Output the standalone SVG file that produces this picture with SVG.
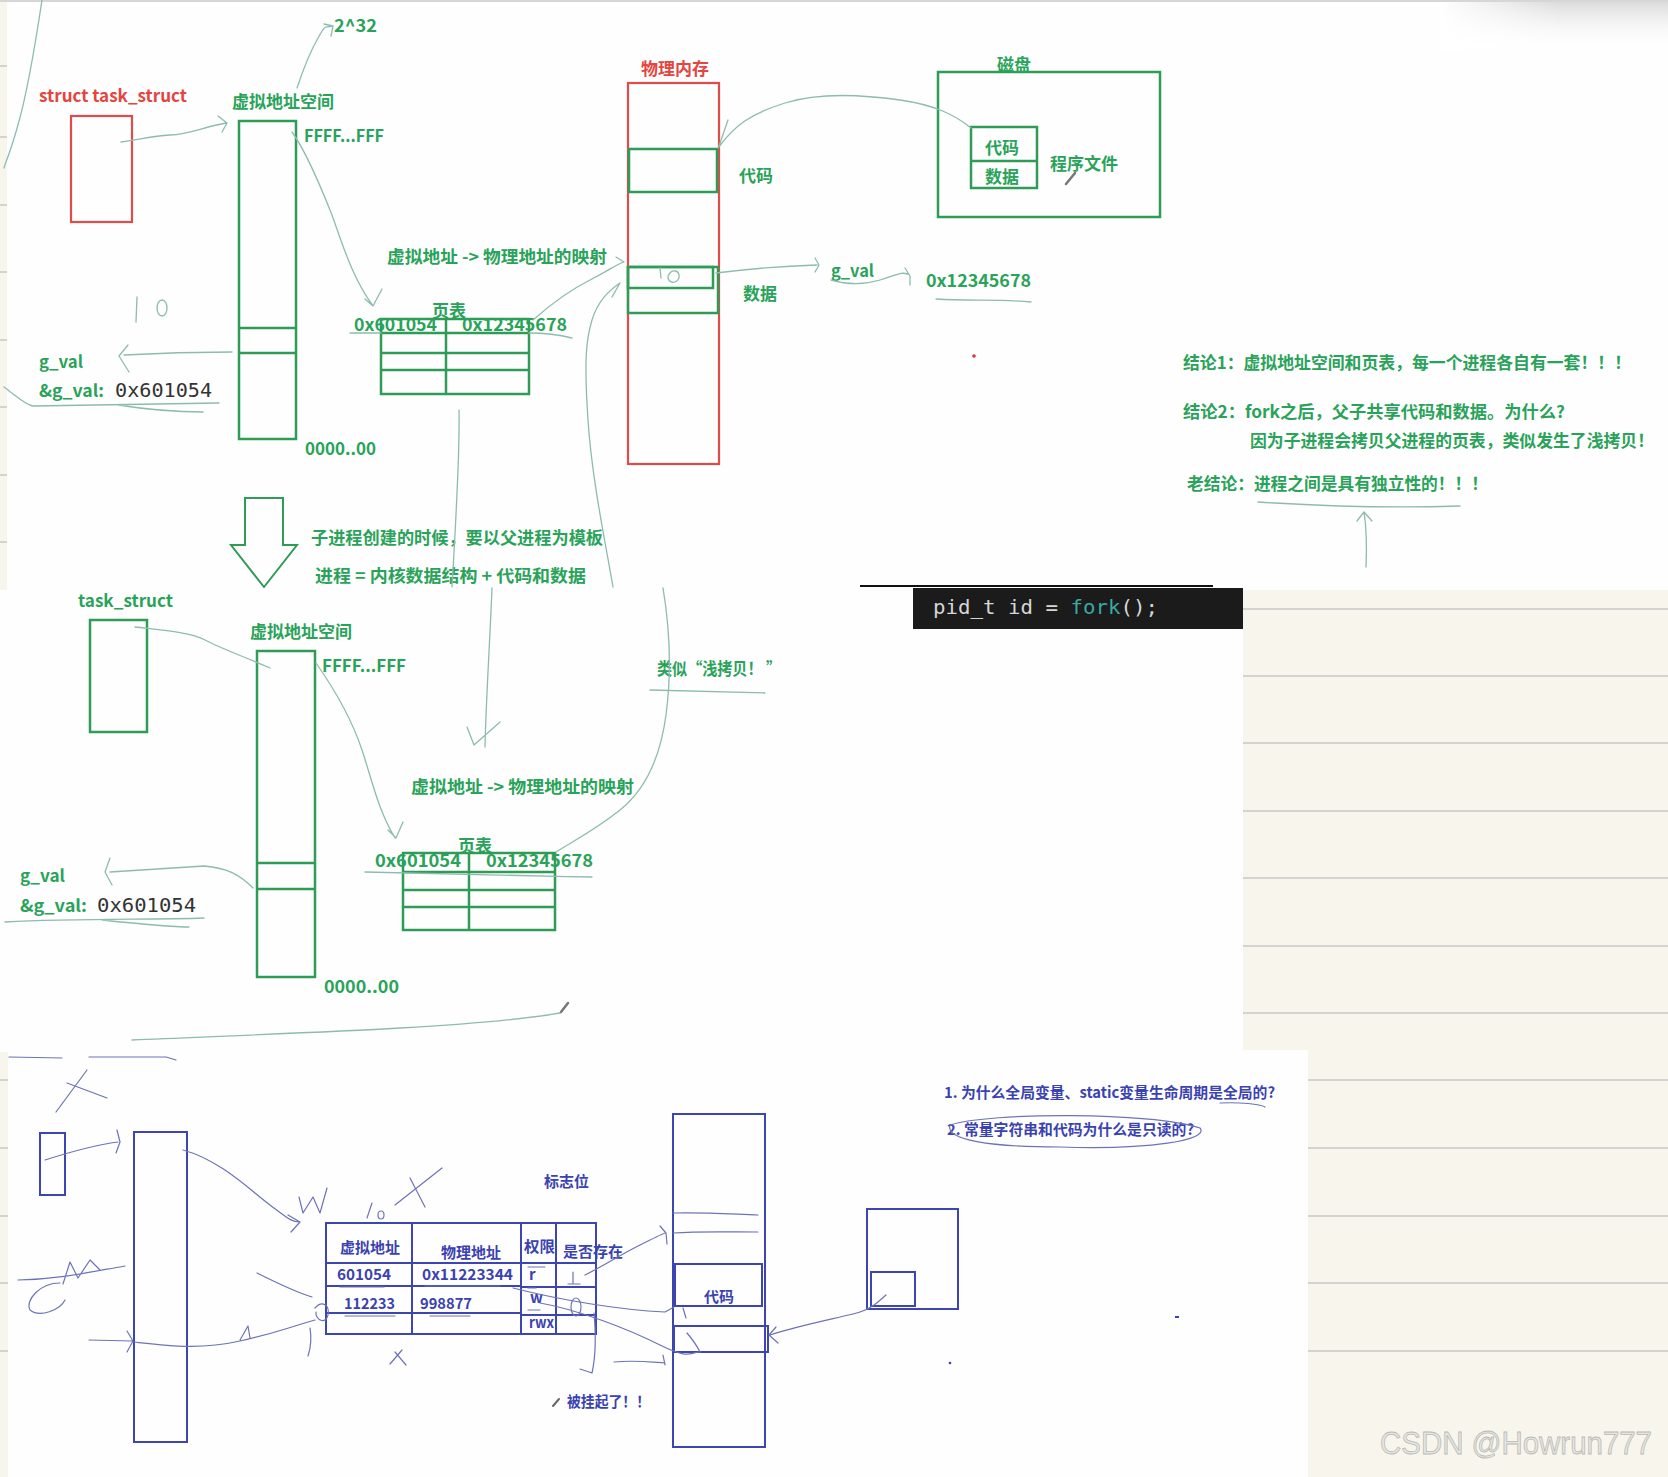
<svg xmlns="http://www.w3.org/2000/svg" width="1668" height="1477" viewBox="0 0 1668 1477">
<defs>
<linearGradient id="tg" x1="0" y1="0" x2="0" y2="1"><stop offset="0" stop-color="#d8d8d8"/><stop offset="1" stop-color="#ffffff" stop-opacity="0"/></linearGradient>
<linearGradient id="tgx" x1="0" y1="0" x2="1" y2="0"><stop offset="0" stop-color="#fff" stop-opacity="1"/><stop offset="1" stop-color="#fff" stop-opacity="0"/></linearGradient>
</defs>
<style>
text{font-family:"Noto Sans CJK SC","Noto Sans",sans-serif;font-weight:700}
.g{fill:#2aa35a;font-size:17px}
.r{fill:#e5443f;font-size:17px}
.b{fill:#3a42b2;font-size:15px}
.mono{font-family:"DejaVu Sans Mono","Liberation Mono",monospace;font-weight:400;font-size:20px;fill:#333}
.code{font-family:"DejaVu Sans Mono","Liberation Mono",monospace;font-weight:400;font-size:20px;fill:#d6d6d6}
.wm{font-family:"Liberation Sans",Arial,sans-serif;font-weight:400;font-size:31px;fill:#e6e6e2;stroke:#b9b9b5;stroke-width:0.8}
.gb{fill:none;stroke:#2f9c56;stroke-width:2.5}
.rb{fill:none;stroke:#e04b4b;stroke-width:2.2}
.bb{fill:none;stroke:#3d45b0;stroke-width:2}
.pen{fill:none;stroke:#8dbcae;stroke-width:1.3;stroke-linecap:round;stroke-linejoin:round}
.bpen{fill:none;stroke:#6c73b8;stroke-width:1.2;stroke-linecap:round;stroke-linejoin:round}
.rule{stroke:#d3d3cf;stroke-width:2}
</style>
<!-- backgrounds -->
<rect x="0" y="0" width="1668" height="1477" fill="#fefefe"/>
<rect x="1243" y="590" width="425" height="887" fill="#f8f6ec"/>
<rect x="0" y="1050" width="1308" height="427" fill="#fefefe"/>
<rect x="0" y="0" width="7" height="590" fill="#f8f6ec"/>
<rect x="0" y="1052" width="8" height="425" fill="#f8f6ec"/>
<rect x="1440" y="0" width="228" height="50" fill="url(#tg)"/>
<rect x="1440" y="0" width="120" height="50" fill="url(#tgx)"/>
<line x1="0" y1="1" x2="1668" y2="1" stroke="#d6d6d6" stroke-width="2"/>
<g id="rules">
<line class="rule" x1="1243" y1="609" x2="1668" y2="609"/>
<line class="rule" x1="1243" y1="676" x2="1668" y2="676"/>
<line class="rule" x1="1243" y1="743" x2="1668" y2="743"/>
<line class="rule" x1="1243" y1="811" x2="1668" y2="811"/>
<line class="rule" x1="1243" y1="878" x2="1668" y2="878"/>
<line class="rule" x1="1243" y1="946" x2="1668" y2="946"/>
<line class="rule" x1="1243" y1="1013" x2="1668" y2="1013"/>
<line class="rule" x1="1308" y1="1080" x2="1668" y2="1080"/>
<line class="rule" x1="1308" y1="1148" x2="1668" y2="1148"/>
<line class="rule" x1="1308" y1="1216" x2="1668" y2="1216"/>
<line class="rule" x1="1308" y1="1283" x2="1668" y2="1283"/>
<line class="rule" x1="1308" y1="1351" x2="1668" y2="1351"/>
<line class="rule" x1="0" y1="66" x2="7" y2="66"/>
<line class="rule" x1="0" y1="137" x2="7" y2="137"/>
<line class="rule" x1="0" y1="205" x2="7" y2="205"/>
<line class="rule" x1="0" y1="272" x2="7" y2="272"/>
<line class="rule" x1="0" y1="340" x2="7" y2="340"/>
<line class="rule" x1="0" y1="407" x2="7" y2="407"/>
<line class="rule" x1="0" y1="475" x2="7" y2="475"/>
<line class="rule" x1="0" y1="542" x2="7" y2="542"/>
<line class="rule" x1="0" y1="1080" x2="8" y2="1080"/>
<line class="rule" x1="0" y1="1148" x2="8" y2="1148"/>
<line class="rule" x1="0" y1="1216" x2="8" y2="1216"/>
<line class="rule" x1="0" y1="1283" x2="8" y2="1283"/>
<line class="rule" x1="0" y1="1351" x2="8" y2="1351"/>
</g>

<!-- ===== top panel nodes ===== -->
<g id="task-struct-1">
<text class="r" x="39" y="102" textLength="148" lengthAdjust="spacingAndGlyphs">struct task_struct</text>
<rect class="rb" x="71" y="116" width="61" height="106"/>
</g>
<g id="vas-1">
<text class="g" x="232" y="108">虚拟地址空间</text>
<rect class="gb" x="239" y="121" width="57" height="318"/>
<line class="gb" x1="239" y1="328" x2="296" y2="328"/>
<line class="gb" x1="239" y1="353" x2="296" y2="353"/>
<text class="g" x="304" y="142" textLength="80" lengthAdjust="spacingAndGlyphs">FFFF...FFF</text>
<text class="g" x="334" y="32" textLength="43" lengthAdjust="spacingAndGlyphs">2^32</text>
<text class="g" x="305" y="455" textLength="71" lengthAdjust="spacingAndGlyphs">0000..00</text>
</g>
<g id="gval-1">
<text class="g" x="39" y="368" textLength="44" lengthAdjust="spacingAndGlyphs">g_val</text>
<text class="g" x="39" y="397" textLength="65" lengthAdjust="spacingAndGlyphs">&amp;g_val:</text>
<text class="mono" x="115" y="397" textLength="97" lengthAdjust="spacingAndGlyphs">0x601054</text>
</g>
<g id="pagetable-1">
<text class="g" x="387" y="263" textLength="220" lengthAdjust="spacingAndGlyphs">虚拟地址 -&gt; 物理地址的映射</text>
<text class="g" x="432" y="317">页表</text>
<rect class="gb" x="381" y="319" width="148" height="75"/>
<line class="gb" x1="381" y1="333" x2="529" y2="333"/>
<line class="gb" x1="381" y1="353" x2="529" y2="353"/>
<line class="gb" x1="381" y1="370" x2="529" y2="370"/>
<line class="gb" x1="446" y1="319" x2="446" y2="394"/>
<text class="g" x="354" y="331" textLength="83" lengthAdjust="spacingAndGlyphs">0x601054</text>
<text class="g" x="462" y="331" textLength="105" lengthAdjust="spacingAndGlyphs">0x12345678</text>
</g>
<g id="phys-mem-1">
<text class="r" x="641" y="75">物理内存</text>
<rect class="rb" x="628" y="83" width="91" height="381"/>
<rect class="gb" x="629" y="149" width="88" height="43"/>
<rect class="gb" x="628" y="267" width="90" height="46"/>
<rect class="gb" x="628" y="267" width="85" height="21"/>
<text class="g" x="739" y="182">代码</text>
<text class="g" x="743" y="300">数据</text>
</g>
<g id="gval-value">
<text class="g" x="831" y="277" textLength="43" lengthAdjust="spacingAndGlyphs">g_val</text>
<text class="g" x="926" y="287" textLength="105" lengthAdjust="spacingAndGlyphs">0x12345678</text>
</g>
<g id="disk">
<rect class="gb" x="938" y="72" width="222" height="145"/>
<text class="g" x="997" y="71">磁盘</text>
<rect class="gb" x="971" y="127" width="66" height="61"/>
<line class="gb" x1="971" y1="161" x2="1037" y2="161"/>
<text class="g" x="985" y="154">代码</text>
<text class="g" x="985" y="183">数据</text>
<text class="g" x="1050" y="170">程序文件</text>
</g>
<g id="conclusions">
<text class="g" x="1183" y="369" textLength="448" lengthAdjust="spacingAndGlyphs">结论1：虚拟地址空间和页表，每一个进程各自有一套！！！</text>
<text class="g" x="1183" y="418" textLength="382" lengthAdjust="spacingAndGlyphs">结论2：fork之后，父子共享代码和数据。为什么?</text>
<text class="g" x="1250" y="447" textLength="404" lengthAdjust="spacingAndGlyphs">因为子进程会拷贝父进程的页表，类似发生了浅拷贝！</text>
<text class="g" x="1187" y="490" textLength="301" lengthAdjust="spacingAndGlyphs">老结论：进程之间是具有独立性的！！！</text>
</g>
<g id="fork-arrow">
<polygon points="245,498 283,498 283,545 297,545 264,587 231,545 245,545" fill="none" stroke="#2f9c56" stroke-width="2"/>
<text class="g" x="311" y="544" textLength="292" lengthAdjust="spacingAndGlyphs">子进程创建的时候，要以父进程为模板</text>
<text class="g" x="315" y="582" textLength="271" lengthAdjust="spacingAndGlyphs">进程 = 内核数据结构 + 代码和数据</text>
</g>

<!-- ===== middle panel nodes ===== -->
<g id="task-struct-2">
<text class="g" x="78" y="607" textLength="95" lengthAdjust="spacingAndGlyphs">task_struct</text>
<rect class="gb" x="90" y="620" width="57" height="112"/>
</g>
<g id="vas-2">
<text class="g" x="250" y="638">虚拟地址空间</text>
<rect class="gb" x="257" y="651" width="58" height="326"/>
<line class="gb" x1="257" y1="863" x2="315" y2="863"/>
<line class="gb" x1="257" y1="889" x2="315" y2="889"/>
<text class="g" x="322" y="672" textLength="84" lengthAdjust="spacingAndGlyphs">FFFF...FFF</text>
<text class="g" x="324" y="993" textLength="75" lengthAdjust="spacingAndGlyphs">0000..00</text>
</g>
<g id="gval-2">
<text class="g" x="20" y="882" textLength="45" lengthAdjust="spacingAndGlyphs">g_val</text>
<text class="g" x="20" y="912" textLength="67" lengthAdjust="spacingAndGlyphs">&amp;g_val:</text>
<text class="mono" x="97" y="912" textLength="99" lengthAdjust="spacingAndGlyphs">0x601054</text>
</g>
<g id="pagetable-2">
<text class="g" x="657" y="675" textLength="124" lengthAdjust="spacingAndGlyphs">类似“浅拷贝！ ”</text>
<text class="g" x="411" y="793" textLength="223" lengthAdjust="spacingAndGlyphs">虚拟地址 -&gt; 物理地址的映射</text>
<text class="g" x="458" y="852">页表</text>
<rect class="gb" x="403" y="853" width="152" height="77"/>
<line class="gb" x1="403" y1="872" x2="555" y2="872"/>
<line class="gb" x1="403" y1="890" x2="555" y2="890"/>
<line class="gb" x1="403" y1="907" x2="555" y2="907"/>
<line class="gb" x1="469" y1="853" x2="469" y2="930"/>
<text class="g" x="375" y="867" textLength="86" lengthAdjust="spacingAndGlyphs">0x601054</text>
<text class="g" x="486" y="867" textLength="107" lengthAdjust="spacingAndGlyphs">0x12345678</text>
</g>
<g id="code-snippet">
<line x1="860" y1="586" x2="1213" y2="586" stroke="#111" stroke-width="2"/>
<rect x="913" y="588" width="330" height="41" fill="#1b1b1b"/>
<text class="code" x="933" y="614" textLength="225" lengthAdjust="spacingAndGlyphs">pid_t id = <tspan fill="#3aa9a0">fork</tspan>();</text>
</g>

<!-- ===== bottom panel nodes ===== -->
<g id="task-struct-3"><rect class="bb" x="40" y="1133" width="25" height="62"/></g>
<g id="vas-3"><rect class="bb" x="134" y="1132" width="53" height="310"/></g>
<g id="pagetable-3">
<text class="b" x="544" y="1187">标志位</text>
<rect class="bb" x="326" y="1223" width="195" height="111" stroke-width="2.6"/>
<line class="bb" x1="326" y1="1263" x2="521" y2="1263"/>
<line class="bb" x1="326" y1="1286" x2="521" y2="1286" stroke-width="2.6"/>
<line class="bb" x1="326" y1="1313" x2="521" y2="1313" stroke-width="2.6"/>
<line class="bb" x1="412" y1="1223" x2="412" y2="1334"/>
<rect class="bb" x="521" y="1223" width="75" height="111"/>
<line class="bb" x1="556" y1="1223" x2="556" y2="1334"/>
<line class="bb" x1="521" y1="1263" x2="596" y2="1263"/>
<line class="bb" x1="521" y1="1287" x2="596" y2="1287"/>
<line class="bb" x1="521" y1="1315" x2="596" y2="1315"/>
<text class="b" x="340" y="1253">虚拟地址</text>
<text class="b" x="441" y="1258">物理地址</text>
<text class="b" x="524" y="1252" textLength="31" lengthAdjust="spacingAndGlyphs">权限</text>
<text class="b" x="563" y="1257" textLength="60" lengthAdjust="spacingAndGlyphs">是否存在</text>
<text class="b" x="337" y="1280" textLength="54" lengthAdjust="spacingAndGlyphs">601054</text>
<text class="b" x="422" y="1280" textLength="91" lengthAdjust="spacingAndGlyphs">0x11223344</text>
<text class="b" x="529" y="1280">r</text>
<text class="b" x="344" y="1309" textLength="51" lengthAdjust="spacingAndGlyphs">112233</text>
<text class="b" x="420" y="1309" textLength="52" lengthAdjust="spacingAndGlyphs">998877</text>
<text class="b" x="530" y="1303">w</text>
<text class="b" x="529" y="1328" textLength="25" lengthAdjust="spacingAndGlyphs">rwx</text>
<text class="b" x="567" y="1407" textLength="83" lengthAdjust="spacingAndGlyphs">被挂起了！！</text>
</g>
<g id="phys-mem-3">
<rect class="bb" x="673" y="1114" width="92" height="333"/>
<rect class="bb" x="675" y="1264" width="87" height="42"/>
<text class="b" x="704" y="1302">代码</text>
<rect class="bb" x="674" y="1326" width="94" height="26"/>
</g>
<g id="disk-3">
<rect class="bb" x="867" y="1209" width="91" height="100"/>
<rect class="bb" x="871" y="1272" width="44" height="34"/>
</g>
<g id="questions">
<text class="b" x="944" y="1098" textLength="331" lengthAdjust="spacingAndGlyphs">1. 为什么全局变量、static变量生命周期是全局的?</text>
<text class="b" x="947" y="1135" textLength="247" lengthAdjust="spacingAndGlyphs">2. 常量字符串和代码为什么是只读的?</text>
</g>
<text class="wm" x="1380" y="1454" textLength="272" lengthAdjust="spacingAndGlyphs">CSDN @Howrun777</text>

<!-- ===== connectors (hand-drawn strokes) ===== -->
<g id="connectors">
<g class="pen">
<path d="M42,0 C36,40 28,90 18,125 S6,160 4,168"/>
<path d="M121,142 C140,140 150,136 170,135 S200,128 226,123 M218,116 L227,123 L222,132"/>
<path d="M297,88 C303,70 310,52 318,38 S324,28 332,26 M324,24 L333,26 L331,36"/>
<path d="M292,132 C305,150 320,185 330,210 S350,275 373,306 M382,289 L373,306 L365,299"/>
<path d="M137,297 L136,322"/>
<ellipse cx="162" cy="308" rx="5" ry="8"/>
<path d="M232,352 C200,352 160,353 124,355 M128,345 L119,356 L129,372"/>
<path d="M4,387 C15,395 25,405 33,406 L219,403 M118,405 C150,410 180,412 203,412"/>
<path d="M350,333 L381,333 M529,333 C545,333 560,335 572,338"/>
<path d="M533,320 C550,305 570,290 590,280 S615,265 624,262 M616,257 L624,262"/>
<path d="M613,587 C605,540 592,480 588,420 S586,340 592,320 S610,290 620,283 M612,297 L620,283"/>
<path d="M459,410 C460,450 456,520 452,587"/>
<path d="M971,128 C955,115 935,105 900,100 S820,92 785,103 S735,125 718,148 M728,120 L719,146"/>
<path d="M716,273 C740,270 780,266 817,265 M815,258 L819,265 L815,272"/>
<path d="M831,280 C845,284 860,286 880,280 S900,272 908,274 M905,268 L910,276 L910,285"/>
<path d="M936,299 C970,301 1000,299 1031,302"/>
<path d="M661,278 L660,268 M668,276 C672,268 680,270 679,278 C676,284 668,284 668,276"/>
<path d="M1258,502 C1320,506 1400,508 1460,506"/>
<path d="M1366,567 C1367,545 1366,525 1364,512 M1357,521 L1364,512 L1372,521"/>
<path d="M135,627 C160,630 190,632 205,640 S240,655 270,668"/>
<path d="M316,663 C335,690 352,720 362,750 S378,810 395,838 M403,822 L396,838 L388,830"/>
<path d="M253,888 C240,875 228,868 204,866 L110,872 M110,858 L105,872 L112,885"/>
<path d="M5,922 C80,918 150,920 204,918 M102,920 C140,924 170,927 189,927"/>
<path d="M365,872 C450,874 520,876 592,877"/>
<path d="M650,690 C690,691 730,692 765,693"/>
<path d="M492,588 C490,640 486,700 485,747 M467,727 L474,745 L500,722"/>
<path d="M663,588 C670,630 672,670 666,715 S645,790 620,810 S575,840 556,852"/>
<path d="M132,1040 C250,1035 330,1032 400,1028 S520,1020 560,1013"/>
</g>
<path d="M1066,184 L1075,173" stroke="#777" stroke-width="2.5" stroke-linecap="round"/>
<path d="M561,1012 L568,1003" stroke="#777" stroke-width="2.5" stroke-linecap="round"/>
<circle cx="974" cy="356" r="1.8" fill="#d33"/>
<g class="bpen">
<path d="M9,1057 L62,1058 M89,1057 L166,1057 L176,1060"/>
<path d="M87,1070 L56,1112 M67,1083 L107,1098"/>
<path d="M45,1160 C70,1152 95,1145 118,1142 M117,1130 L120,1142 L116,1153"/>
<path d="M183,1150 C220,1160 250,1190 270,1205 S292,1222 300,1222 M288,1215 L300,1222 L291,1232"/>
<path d="M299,1197 L303,1213 L313,1197 L320,1213 L327,1188"/>
<path d="M60,1283 C40,1283 25,1300 30,1310 C40,1318 60,1310 65,1300 M18,1280 C60,1279 90,1272 125,1266 M63,1284 L70,1262 L78,1278 L90,1260 L100,1270"/>
<path d="M89,1340 L132,1341 M127,1331 L133,1341 L127,1352"/>
<path d="M134,1342 C170,1346 200,1350 240,1341 S280,1330 315,1320 M240,1340 L248,1326 L250,1338"/>
<path d="M257,1273 C275,1282 295,1292 312,1297"/>
<path d="M315,1308 C322,1300 330,1305 328,1315 S315,1320 316,1312 M310,1328 C312,1340 310,1350 308,1356"/>
<path d="M395,1205 L442,1168 M410,1178 L425,1207"/>
<path d="M367,1218 L372,1203"/>
<ellipse cx="381" cy="1215" rx="3" ry="4"/>
<path d="M390,1364 L402,1350 M395,1352 L406,1365"/>
<path d="M585,1275 C605,1265 620,1255 640,1245 S660,1235 665,1233 M660,1226 L666,1233 L667,1244"/>
<path d="M573,1272 L573,1283 M568,1284 L580,1284"/>
<ellipse cx="576" cy="1307" rx="5" ry="9"/>
<path d="M513,1288 C560,1300 620,1310 665,1312 L674,1307"/>
<path d="M540,1303 C580,1310 630,1330 660,1345 S690,1352 700,1352"/>
<path d="M594,1313 C596,1335 596,1355 592,1373 L580,1369"/>
<path d="M614,1362 C635,1360 650,1362 665,1363 M663,1355 L665,1365"/>
<path d="M886,1295 C878,1302 872,1308 860,1312 S800,1325 770,1335 M776,1327 L769,1335 L778,1343"/>
<path d="M673,1213 C700,1212 730,1214 758,1215 M673,1233 C700,1231 730,1232 758,1232"/>
<path d="M683,1308 L686,1318 M687,1333 C693,1340 698,1348 700,1352"/>
<path d="M950,1125 C990,1112 1150,1112 1200,1128 C1210,1140 1150,1150 1060,1147 C990,1147 945,1140 950,1125"/>
<path d="M1220,1103 C1240,1102 1260,1104 1265,1107"/>
<path d="M340,1287 L384,1287 M425,1286 L500,1286 M345,1316 L395,1316 M430,1316 L470,1316 M528,1288 L536,1288 M528,1310 L540,1310 M528,1267 L545,1267"/>
</g>
<path d="M553,1406 L559,1399" stroke="#666" stroke-width="2" stroke-linecap="round"/>
<rect x="1175" y="1316" width="4" height="2" fill="#3a42b2"/>
<circle cx="950" cy="1363" r="1.3" fill="#3a42b2"/>
</g>
</svg>
